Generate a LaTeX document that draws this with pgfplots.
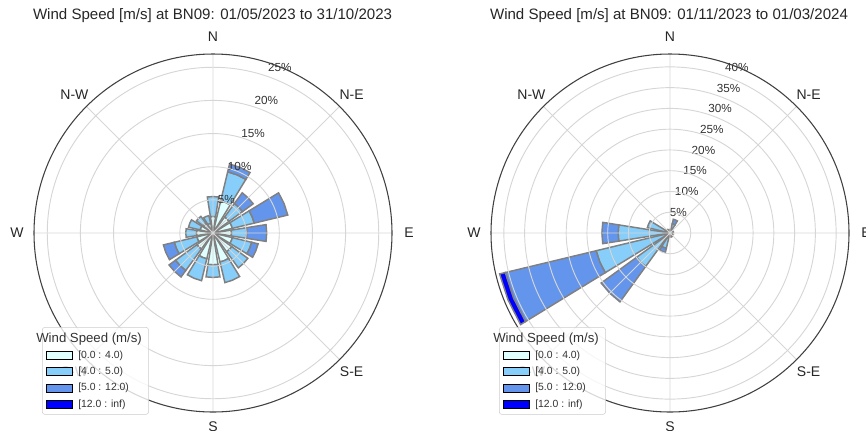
\documentclass[border=0pt]{standalone}
\usepackage{fontspec}
\setmainfont{Liberation Sans}
\usepackage{pgfplots}
\usepackage{pgfplotstable}
\pgfplotsset{compat=1.18}
\usepgfplotslibrary{polar}

\definecolor{c0}{HTML}{E0FFFF}
\definecolor{c1}{HTML}{87CEFA}
\definecolor{c2}{HTML}{6495ED}
\definecolor{c3}{HTML}{0000FF}
\definecolor{edge}{HTML}{808080}
\definecolor{gridc}{HTML}{D6D6D6}

% direction in degrees from N (clockwise), share of time (%) per speed bin
% b0 = [0,4)  b1 = [4,5)  b2 = [5,12)  b3 = [12,inf)
\pgfplotstableread{
dir   b0   b1   b2   b3
0     2.5  3.0  0    0
22.5  5.0  4.5  1.2  0
45    3.0  2.5  2.0  0
67.5  3.0  3.4  5.2  0
90    2.8  2.3  3.0  0
112.5 3.0  3.0  1.0  0
135   3.5  3.0  0    0
157.5 4.5  3.2  0    0
180   4.8  1.9  0    0
202.5 4.0  3.4  0    0
225   3.0  4.0  1.2  0
247.5 2.5  3.5  1.7  0
270   2.5  1.6  0    0
292.5 2.0  1.8  0    0
315   1.8  1.3  0    0
337.5 1.5  1.2  0    0
}\summer

\pgfplotstableread{
dir   b0   b1   b2   b3
0     0.3  0.5  0    0
22.5  0.5  1.8  1.1  0
45    0.3  0.4  0    0
67.5  0.3  0.5  0    0
90    0.3  0.3  0    0
112.5 0.3  0.3  0    0
135   0.4  0.4  0    0
157.5 0.4  0.6  0    0
180   0.4  0.5  0    0
202.5 0.6  3.2  1.0  0
225   0.6  9.4  10.5 0
247.5 0.8  17.5 22.5 1.4
270   0.6  11.9 3.9  0
292.5 0.5  5.1  0    0
315   0.4  0.6  0    0
337.5 0.3  0.5  0    0
}\winter

% one stacked segment of a bar: colour, inner radius, outer radius
\newcommand\rosewedge[3]{%
  \ifdim #3pt>#2pt
    \edef\tmp{\noexpand\addplot[draw=edge, line width=1.1pt, fill=#1]
      coordinates {(\aL,#2) (\aL,#3) (\aM,#3) (\aR,#3) (\aR,#2) (\aM,#2)} -- cycle;}%
    \tmp
  \fi}

\newcommand\drawrose[1]{%
  \pgfplotstablegetrowsof{#1}%
  \pgfmathtruncatemacro\nlast{\pgfplotsretval-1}%
  \foreach \i in {0,...,\nlast}{%
    \pgfplotstablegetelem{\i}{dir}\of{#1}\let\dirv\pgfplotsretval
    \pgfplotstablegetelem{\i}{b0}\of{#1}\let\va\pgfplotsretval
    \pgfplotstablegetelem{\i}{b1}\of{#1}\let\vb\pgfplotsretval
    \pgfplotstablegetelem{\i}{b2}\of{#1}\let\vc\pgfplotsretval
    \pgfplotstablegetelem{\i}{b3}\of{#1}\let\vd\pgfplotsretval
    \pgfmathsetmacro\aM{90-\dirv}%
    \pgfmathsetmacro\aL{\aM-9}%
    \pgfmathsetmacro\aR{\aM+9}%
    \pgfmathsetmacro\rA{\va}%
    \pgfmathsetmacro\rB{\rA+\vb}%
    \pgfmathsetmacro\rC{\rB+\vc}%
    \pgfmathsetmacro\rD{\rC+\vd}%
    \rosewedge{c0}{0}{\rA}%
    \rosewedge{c1}{\rA}{\rB}%
    \rosewedge{c2}{\rB}{\rC}%
    \rosewedge{c3}{\rC}{\rD}%
  }}

% compass and percentage labels, placed like matplotlib's
\newcommand\roselabels[2]{% ymax, last ring
  \pgfmathsetmacro\rlab{1.095*#1}%
  \pgfmathsetmacro\rlabs{1.08*#1}%
  \foreach \a/\t in {90/N,45/N-E,0/E,-45/S-E,-135/S-W,180/W,135/N-W}{%
    \edef\tmp{\noexpand\node[dirlab] at (axis cs:\a,\rlab) {\t};}\tmp}%
  \edef\tmp{\noexpand\node[dirlab] at (axis cs:-90,\rlabs) {S};}\tmp
  \foreach \r in {5,10,...,#2}{%
    \pgfmathsetmacro\rr{1.075*\r}%
    \edef\tmp{\noexpand\node[pctlab] at (axis cs:68,\rr) {\r\noexpand\%};}\tmp}%
}

\tikzset{
  dirlab/.style={font=\fontsize{10.5}{12}\selectfont, text=black!85, inner sep=0pt},
  pctlab/.style={font=\fontsize{8.8}{10}\selectfont, text=black!80, inner sep=0pt},
}
\pgfplotsset{
  rose/.style={
    scale only axis, width=268.5pt, height=268.5pt, anchor=center,
    xmin=0, xmax=360, ymin=0,
    xtick={0,45,...,315}, xticklabels={}, yticklabels={},
    grid=major,
    major grid style={draw=gridc, line width=0.7pt},
    x axis line style={draw=black!75, line width=0.8pt},
    y axis line style={draw=none},
    major tick length=0pt,
    axis on top, clip=false,
    legend style={at={(0,0)}, anchor=south west, xshift=6pt, yshift=-2pt,
      draw=black!20, rounded corners=2pt, fill=white, fill opacity=0.8,
      text opacity=1, column sep=1.7pt,
      font=\fontsize{7.8}{9}\selectfont, row sep=1pt, text=black!80},
    legend cell align=left,
    legend image code/.code={\draw[##1, draw=black, line width=0.8pt,
      sharp corners, fill opacity=1] (0pt,-3pt) rectangle (19.5pt,3pt);},
  },
}

\newcommand\roselegend{%
  \addlegendimage{empty legend}
  \addlegendentry{\fontsize{9.9}{11}\selectfont\hspace*{-31.5pt}Wind Speed (m/s)}
  \addlegendimage{fill=c0}\addlegendentry{{[}0.0 : 4.0)}
  \addlegendimage{fill=c1}\addlegendentry{{[}4.0 : 5.0)}
  \addlegendimage{fill=c2}\addlegendentry{{[}5.0 : 12.0)}
  \addlegendimage{fill=c3}\addlegendentry{{[}12.0 : inf)}
}

\begin{document}
\begin{tikzpicture}
\node[font=\fontsize{11.3}{13}\selectfont, text=black!85] at (159.4pt,311pt)
  {Wind Speed [m/s] at BN09: 01/05/2023 to 31/10/2023};
\node[font=\fontsize{11.3}{13}\selectfont, text=black!85] at (501.75pt,311pt)
  {Wind Speed [m/s] at BN09: 01/11/2023 to 01/03/2024};

\begin{polaraxis}[rose, at={(159.75pt,147.75pt)}, ymax=27, ytick={5,10,...,25}]
\roselegend
\drawrose{\summer}
\roselabels{27}{25}
\end{polaraxis}

\begin{polaraxis}[rose, at={(502.5pt,147.75pt)}, ymax=43.1, ytick={5,10,...,40}]
\roselegend
\drawrose{\winter}
\roselabels{43.1}{40}
\end{polaraxis}

\pgfresetboundingbox
\path (0,0) rectangle (649.5pt,322.5pt);
\end{tikzpicture}
\end{document}
